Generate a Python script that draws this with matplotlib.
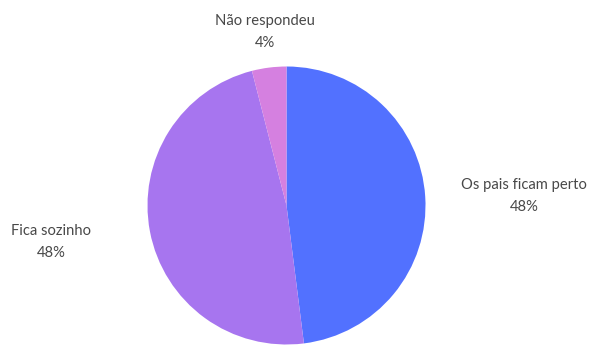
import matplotlib.pyplot as plt

# dados
categorias = ['Os pais ficam perto', 'Fica sozinho', 'Não respondeu']
valores = [48, 48, 4]
cores = ['#5271FF', '#A775EF', '#D580E0']

W, H = 592, 347
fig = plt.figure(figsize=(W / 100, H / 100), dpi=100)
ax = fig.add_axes([0, 0, 1, 1])

cx, cy, r = 286.5, H - 205.5, 139
ax.pie(valores, colors=cores, startangle=90, counterclock=False,
       center=(cx, cy), radius=r, wedgeprops=dict(linewidth=0))

# rotulos (posicoes em pixels)
pos = [(524, 196), (51, 242), (265, 32)]
for nome, v, (x, y) in zip(categorias, valores, pos):
    ax.text(x, H - y, '%s\n%d%%' % (nome, v), ha='center', va='center',
            fontsize=10.6, family=['Lato', 'DejaVu Sans'], color='#484848',
            linespacing=1.8)

ax.set_xlim(0, W)
ax.set_ylim(0, H)
ax.set_aspect('equal')
ax.axis('off')

fig.savefig('out.png', dpi=100)
